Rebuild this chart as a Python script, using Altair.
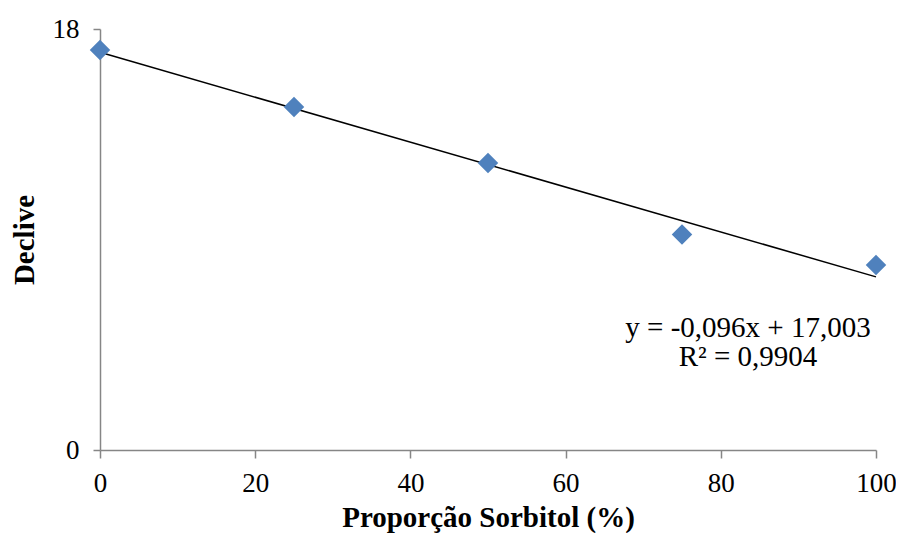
import altair as alt
import pandas as pd

proporcao = [0, 25, 50, 75, 100]
declive = [17.10, 14.67, 12.27, 9.21, 7.91]
slope = -0.096
intercept = 17.003
eq_lines = ["y = -0,096x + 17,003", "R² = 0,9904"]

df = pd.DataFrame({"x": proporcao, "y": declive})
fit = pd.DataFrame({"x": [min(proporcao), max(proporcao)]})
fit["y"] = intercept + slope * fit["x"]
eq = pd.DataFrame({"t": eq_lines, "x": [83.5, 83.5], "y": [5.22, 3.98]})

FONT = "Liberation Serif, Times New Roman, serif"
xs = alt.Scale(domain=[0, 100], nice=False, zero=False)
ys = alt.Scale(domain=[0, 18], nice=False, zero=True)

xaxis = alt.Axis(title="Proporção Sorbitol (%)", values=[0, 20, 40, 60, 80, 100], grid=False,
                 domainColor="#868686", domainWidth=1.5, tickColor="#868686", tickWidth=1.5,
                 tickSize=8, labelFont=FONT, labelFontSize=27, labelColor="black", labelPadding=12,
                 titleFont=FONT, titleFontSize=29, titleFontWeight="bold", titleColor="black",
                 titlePadding=7, labelFlush=False)
yaxis = alt.Axis(title="Declive", values=[0, 18], grid=False,
                 domainColor="#868686", domainWidth=1.5, tickColor="#868686", tickWidth=1.5,
                 tickSize=7, labelFont=FONT, labelFontSize=27, labelColor="black", labelPadding=14,
                 titleFont=FONT, titleFontSize=29, titleFontWeight="bold", titleColor="black",
                 titlePadding=13, labelFlush=False)

line = alt.Chart(fit).mark_line(color="black", strokeWidth=1.5).encode(
    x=alt.X("x:Q", scale=xs, axis=xaxis),
    y=alt.Y("y:Q", scale=ys, axis=yaxis),
)
pts = alt.Chart(df).mark_point(shape="diamond", filled=True, size=420, color="#4F81BD", opacity=1).encode(
    x=alt.X("x:Q", scale=xs),
    y=alt.Y("y:Q", scale=ys),
)
txt = alt.Chart(eq).mark_text(font=FONT, fontSize=29, color="black", align="center").encode(
    x=alt.X("x:Q", scale=xs),
    y=alt.Y("y:Q", scale=ys),
    text="t:N",
)

chart = alt.layer(line, pts, txt).properties(
    width=776, height=421,
    background="white",
    autosize=alt.AutoSizeParams(type="none"),
    padding={"left": 92, "top": 21, "right": 20, "bottom": 83},
).configure_view(strokeWidth=0, stroke=None)

chart.save("out.html", embed_options={"renderer": "svg", "actions": False})
